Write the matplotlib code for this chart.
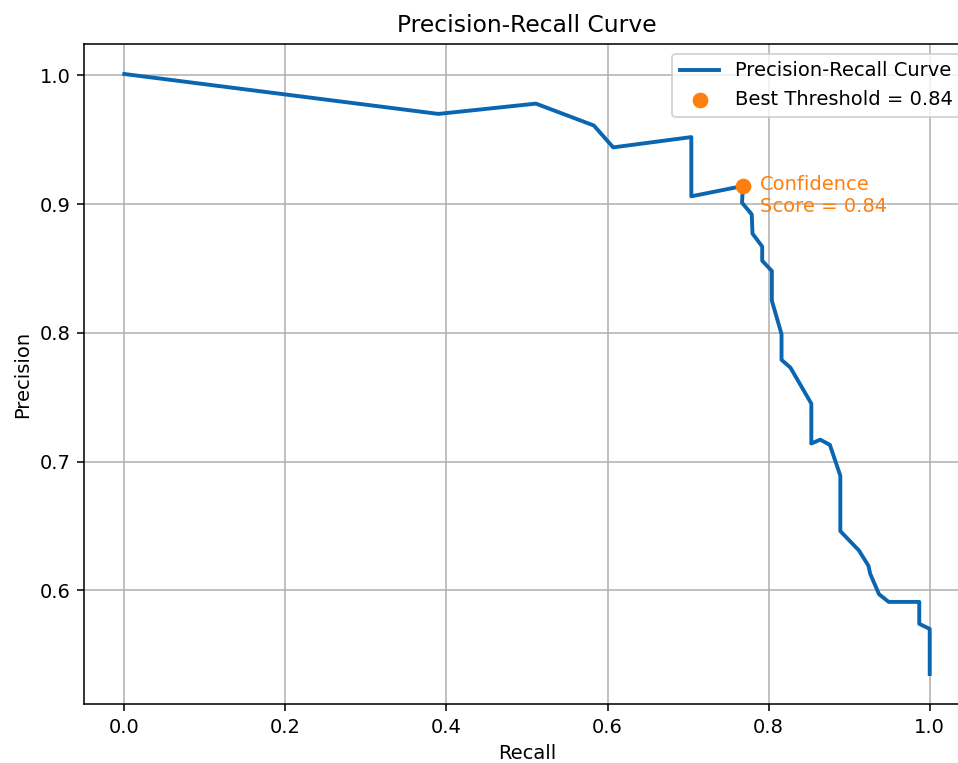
import matplotlib
matplotlib.use("Agg")
import matplotlib.pyplot as plt

# precision / recall points
recall = [0.0, 0.390, 0.511, 0.583, 0.607, 0.704, 0.704, 0.768,
          0.767, 0.779, 0.780, 0.792, 0.792, 0.804, 0.804, 0.816,
          0.816, 0.827, 0.853, 0.853, 0.864, 0.876, 0.889, 0.889,
          0.912, 0.924, 0.926, 0.937, 0.949, 0.987, 0.987, 1.0, 1.0]
precision = [1.001, 0.970, 0.978, 0.961, 0.944, 0.952, 0.906, 0.914,
             0.901, 0.892, 0.877, 0.867, 0.856, 0.848, 0.825, 0.799,
             0.779, 0.773, 0.745, 0.714, 0.717, 0.713, 0.689, 0.646,
             0.631, 0.619, 0.613, 0.597, 0.591, 0.591, 0.574, 0.570, 0.535]

best_recall = 0.768
best_precision = 0.914
best_threshold = 0.84

fig = plt.figure(figsize=(958 / 140, 763 / 140), dpi=140)
# right side of the original image is cropped, so the axes run past the edge
ax = fig.add_axes([84 / 958, 59 / 763, 886 / 958, 660 / 763])

ax.plot(recall, precision, color='#0a66b0', linewidth=2, label='Precision-Recall Curve')
ax.scatter([best_recall], [best_precision], color='#ff7f0e', s=50, zorder=3,
           label=f'Best Threshold = {best_threshold:.2f}')
ax.annotate(f'Confidence\nScore = {best_threshold:.2f}', xy=(best_recall, best_precision),
            xytext=(9, -13.5), textcoords='offset points', color='#ff7f0e', fontsize=10)

ax.set_title('Precision-Recall Curve')
ax.set_xlabel('Recall')
ax.set_ylabel('Precision')
ax.grid(True)
ax.legend(loc='upper right')

fig.savefig('out.png', dpi=140)
